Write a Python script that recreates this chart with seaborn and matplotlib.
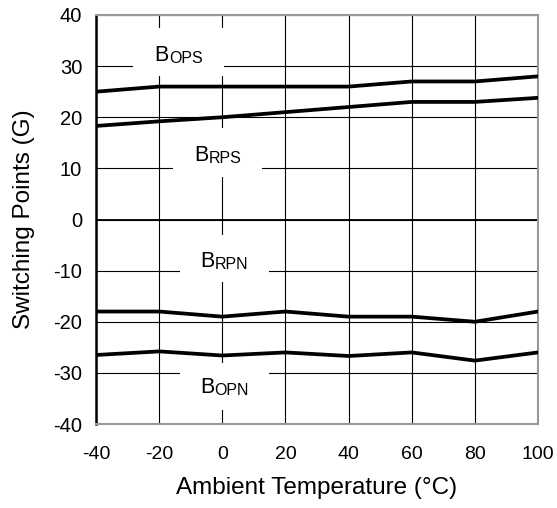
import matplotlib
matplotlib.use("Agg")
import matplotlib.pyplot as plt
import seaborn as sns
import pandas as pd
from matplotlib.patches import Rectangle

temps = [-40, -20, 0, 20, 40, 60, 80, 100]
bops = [25, 26, 26, 26, 26, 27, 27, 28]
brps = [18.3, 19.2, 20, 21, 22, 23, 23, 23.8]
brpn = [-18, -18, -19, -18, -19, -19, -20, -18]
bopn = [-26.5, -25.8, -26.6, -26, -26.7, -26, -27.6, -26]
series_names = ["BOPS", "BRPS", "BRPN", "BOPN"]
x_ticks = [-40, -20, 0, 20, 40, 60, 80, 100]
y_ticks = [-40, -30, -20, -10, 0, 10, 20, 30, 40]

df = pd.DataFrame({"T": temps * 4,
                   "v": bops + brps + brpn + bopn,
                   "s": sum([[n] * len(temps) for n in series_names], [])})

sns.set_theme(style="white")
plt.rcParams['font.family'] = ['Liberation Sans', 'DejaVu Sans']

fig = plt.figure(figsize=(5.57, 5.08), dpi=100)
ax = fig.add_axes([96/557, 1-424/508, (538-96)/557, (424-15)/508])

sns.lineplot(data=df, x="T", y="v", units="s", estimator=None, color="black",
             lw=2.7, ax=ax, zorder=5, legend=False)

ax.set_xlim(-40, 100)
ax.set_ylim(-40, 40)
ax.set_xticks(x_ticks)
ax.set_yticks(y_ticks)
ax.set_xticklabels([str(t) for t in x_ticks], fontsize=14)
ax.set_yticklabels([str(t) for t in y_ticks], fontsize=14.5)
ax.grid(True, color="black", lw=0.8, zorder=1)
ax.set_axisbelow(True)
ax.axhline(0, color="black", lw=1.3, zorder=1.5)
ax.tick_params(axis="x", length=0, pad=16, colors="black")
ax.tick_params(axis="y", length=0, pad=10, colors="black")
ax.set_xlabel("Ambient Temperature (°C)", fontsize=17.5, color="black", labelpad=10)
ax.set_ylabel("Switching Points (G)", fontsize=17.5, color="black", labelpad=13)
for side in ["top", "right", "bottom"]:
    ax.spines[side].set_color("#999999")
    ax.spines[side].set_linewidth(1.5)
ax.spines["left"].set_color("black")
ax.spines["left"].set_linewidth(1.8)

# label boxes and texts (white boxes cut the grid)
labels = [
    ("O", "PS", -28.3, 28.1, 28.7, 9.4, -21.6, 31.0),
    ("R", "PS", -15.6, 8.4, 28.2, 9.4, -9.0, 11.5),
    ("R", "PN", -13.4, -12.3, 28.2, 9.2, -7.1, -9.3),
    ("O", "PN", -13.4, -37.3, 28.2, 9.2, -7.1, -34.0),
]
for a, b, bx, by, bw, bh, tx, ty in labels:
    ax.add_patch(Rectangle((bx, by), bw, bh, facecolor="white", edgecolor="none", zorder=2))
    t1 = ax.text(tx, ty, "B", fontsize=15.5, va="baseline", ha="left", zorder=6, color="black")
    ax.annotate(a + b, xy=(1, 0), xycoords=t1, xytext=(0.3, 0), textcoords="offset points",
                fontsize=11.5, va="bottom", ha="left", zorder=6, color="black")

fig.savefig("out.png", dpi=100)
